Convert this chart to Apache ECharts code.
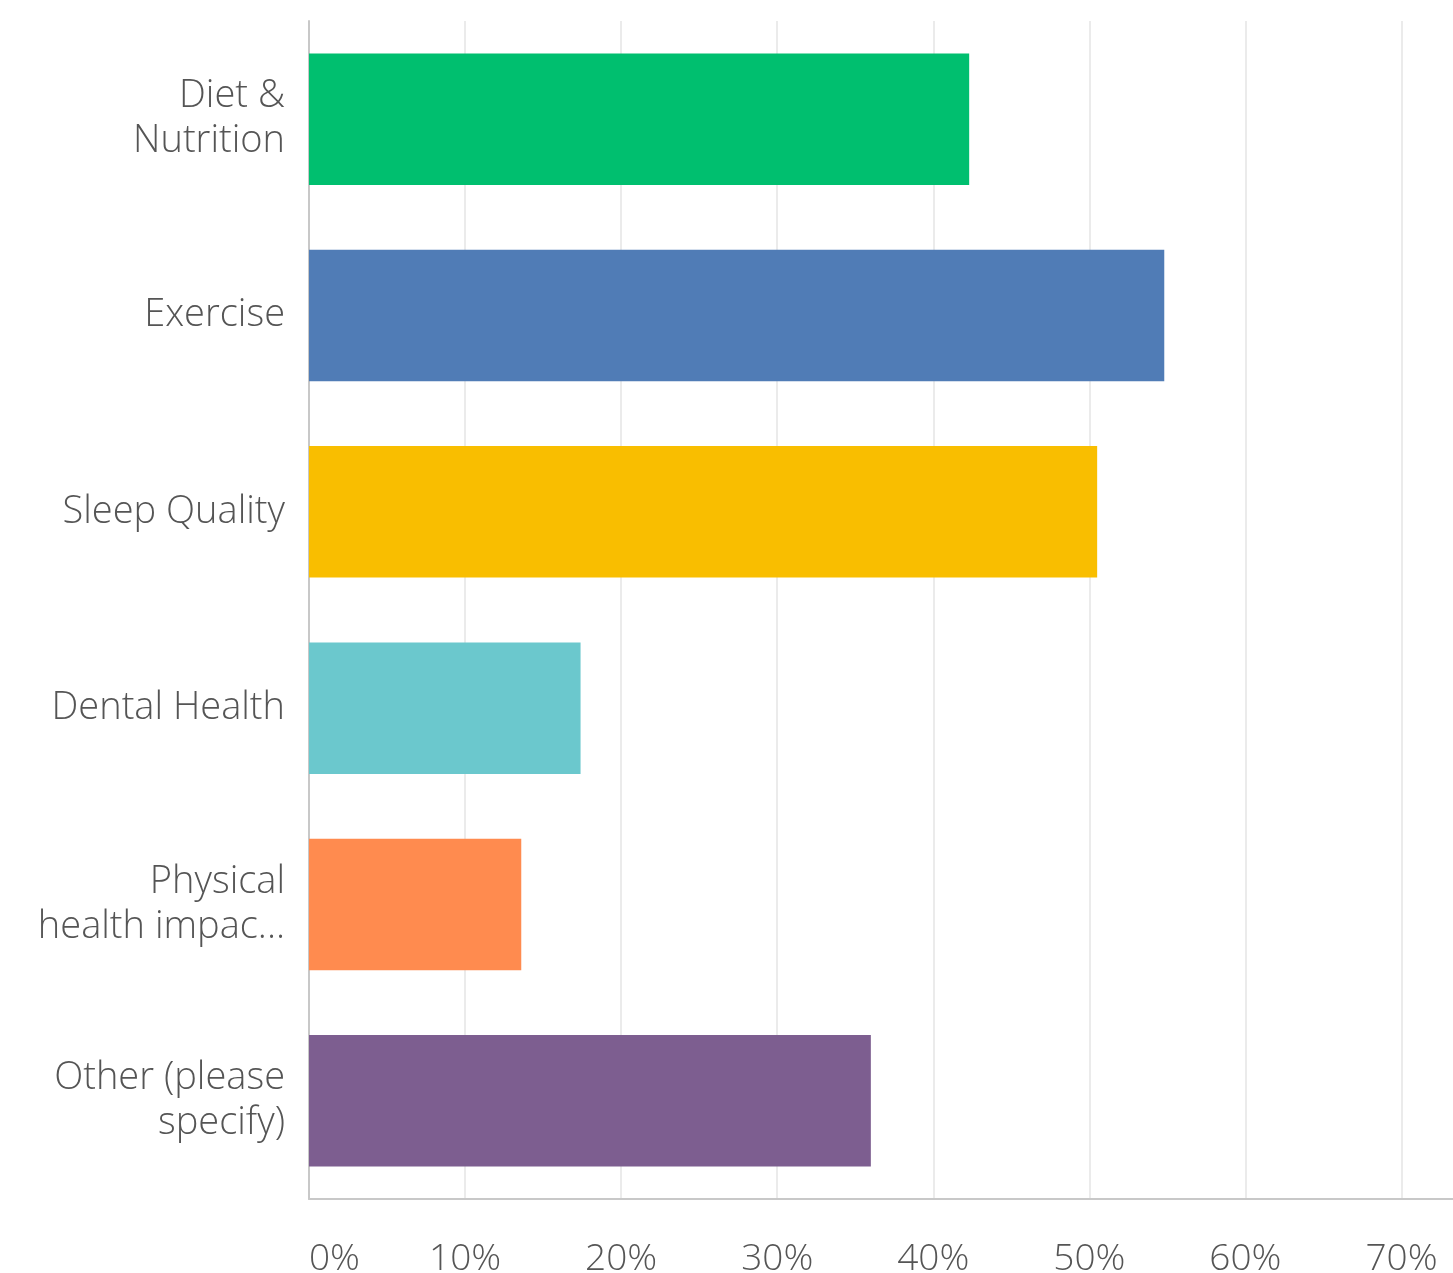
<!DOCTYPE html>
<html>
<head>
<meta charset="utf-8">
<script src="https://cdn.jsdelivr.net/npm/echarts@6/dist/echarts.min.js"></script>
<style>
html,body{margin:0;padding:0;background:#fff;}
#chart{width:1453px;height:1273px;}
</style>
</head>
<body>
<div id="chart"></div>
<script>
var categories = ['Diet &\nNutrition', 'Exercise', 'Sleep Quality', 'Dental Health', 'Physical\nhealth impac...', 'Other (please\nspecify)'];
var values = [42.3, 54.8, 50.5, 17.4, 13.6, 36.0];
var colors = ['#00BF6F', '#507CB6', '#F9BE00', '#6BC8CD', '#FF8B4F', '#7D5E90'];
var tickValues = [0, 10, 20, 30, 40, 50, 60, 70];

var chart = echarts.init(document.getElementById('chart'));
chart.setOption({
  animation: false,
  grid: {left: 309, right: 0, top: 21, bottom: 74, containLabel: false, outerBoundsMode: 'none'},
  xAxis: {
    type: 'value',
    min: 0,
    max: 73.3,
    interval: 10,
    axisLine: {show: true, lineStyle: {color: '#c8c8c8', width: 2}},
    axisTick: {show: false},
    splitLine: {show: true, showMaxLine: false, showMinLine: false, lineStyle: {color: '#ebebeb', width: 2}},
    axisLabel: {
      show: true,
      showMaxLabel: false,
      alignMinLabel: 'left',
      margin: 42,
      fontFamily: 'Open Sans',
      fontWeight: 300,
      fontSize: 37,
      color: '#555',
      formatter: function (v) { return tickValues.indexOf(v) >= 0 ? v + '%' : ''; }
    }
  },
  yAxis: {
    type: 'category',
    inverse: true,
    data: categories,
    axisLine: {show: true, lineStyle: {color: '#c8c8c8', width: 2}},
    axisTick: {show: false},
    splitLine: {show: false},
    axisLabel: {
      margin: 24,
      fontFamily: 'Open Sans',
      fontWeight: 300,
      fontSize: 38,
      lineHeight: 45,
      padding: [4, 0, 0, 0],
      color: '#555',
      align: 'right'
    }
  },
  series: [{
    type: 'bar',
    barCategoryGap: '33%',
    data: values.map(function (v, i) { return {value: v, itemStyle: {color: colors[i]}}; })
  }]
});
</script>
</body>
</html>
